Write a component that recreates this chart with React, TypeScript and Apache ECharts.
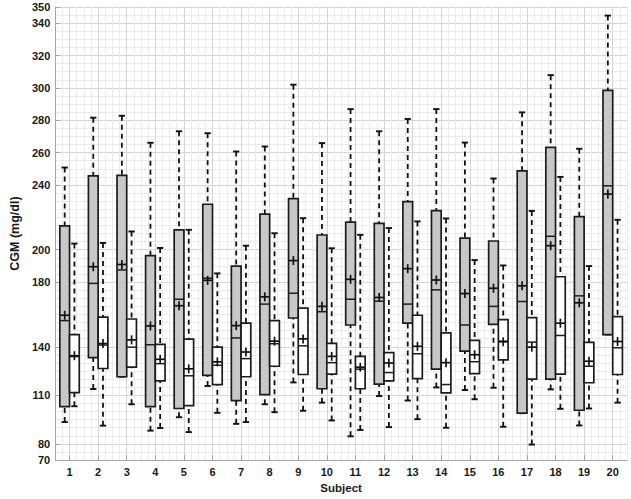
import React, { useEffect, useRef } from "react";
import * as echarts from "echarts";

const subjects = [1, 2, 3, 4, 5, 6, 7, 8, 9, 10, 11, 12, 13, 14, 15, 16, 17, 18, 19, 20];
const yTickValues = [70, 80, 110, 140, 180, 200, 240, 260, 280, 300, 320, 340, 350];

// gray boxes (left of each subject)
const grayLower = [93.5, 113.9, 121.5, 88.2, 96.5, 115.8, 92.4, 104.5, 118.0, 105.5, 84.7, 109.6, 106.8, 114.9, 113.3, 114.7, 99.0, 113.7, 91.4, 147.6];
const grayQ1 = [103.1, 133.3, 121.5, 103.1, 101.9, 122.3, 106.8, 110.4, 157.8, 114.1, 153.5, 117.0, 154.6, 126.2, 137.4, 153.9, 99.0, 120.1, 100.8, 147.6];
const grayMedian = [156.2, 179.2, 187.5, 141.3, 169.4, 182.4, 145.5, 166.4, 173.1, 161.7, 169.4, 168.2, 166.4, 175.2, 153.5, 165.0, 168.0, 208.3, 171.5, 239.5];
const grayQ3 = [214.8, 245.7, 246.0, 196.4, 212.3, 228.1, 189.9, 222.0, 231.6, 209.1, 217.0, 216.3, 229.7, 224.2, 207.2, 205.4, 248.7, 263.2, 220.4, 298.5];
const grayUpper = [250.8, 281.6, 282.8, 266.1, 273.2, 272.0, 260.7, 263.8, 302.0, 265.9, 286.9, 273.2, 280.8, 286.9, 266.2, 244.0, 284.9, 307.9, 262.4, 344.7];
const grayMean = [159.5, 189.5, 190.9, 152.9, 165.4, 181.1, 153.1, 170.9, 193.3, 165.0, 181.7, 170.5, 188.3, 181.3, 172.9, 176.2, 177.7, 202.5, 167.2, 234.4];

// white boxes (right of each subject)
const whiteLower = [103.3, 91.3, 104.5, 89.8, 87.3, 99.2, 93.5, 99.6, 100.5, 94.5, 88.6, 90.4, 95.3, 90.0, 107.6, 90.6, 79.6, 101.7, 101.9, 105.5];
const whiteQ1 = [111.7, 126.6, 127.4, 119.0, 103.7, 116.7, 121.5, 128.0, 122.9, 123.1, 114.1, 119.0, 120.4, 111.5, 123.5, 131.9, 120.1, 123.1, 117.8, 122.9];
const whiteMedian = [134.0, 141.1, 139.8, 129.6, 122.1, 128.6, 132.7, 141.9, 140.6, 130.2, 126.2, 124.1, 135.7, 116.7, 130.8, 143.5, 142.9, 147.0, 128.0, 139.4];
const whiteQ3 = [147.6, 158.4, 157.2, 141.5, 144.7, 139.8, 154.7, 156.2, 163.9, 142.1, 134.1, 136.4, 159.5, 148.6, 144.0, 156.8, 158.0, 183.3, 142.7, 158.7];
const whiteUpper = [203.8, 204.2, 211.3, 201.1, 212.3, 185.4, 202.5, 210.2, 219.5, 200.9, 209.2, 213.4, 217.5, 219.3, 193.6, 190.3, 224.0, 245.0, 189.9, 218.5];
const whiteMean = [134.5, 142.0, 144.3, 132.3, 126.4, 130.7, 136.8, 143.5, 144.9, 134.1, 127.4, 130.0, 140.3, 130.2, 135.1, 143.1, 139.8, 154.6, 131.1, 143.3];

const BOX_W = 0.34;
const OFFSET = 0.17;
const CAP_W = 0.22;
const FONT = "'Liberation Sans', Arial, Helvetica, sans-serif";
const AXIS_COLOR = "#a6a6a6";
const MINOR_GRID = "#ebebeb";
const MAJOR_GRID = "#d5d5d5";
const TEXT_COLOR = "#1a1a1a";

function makeSeries(
  name: string,
  offset: number,
  fill: string,
  lower: number[],
  q1: number[],
  med: number[],
  q3: number[],
  upper: number[],
  mean: number[]
) {
  const data = subjects.map((s, i) => [s + offset, lower[i], q1[i], med[i], q3[i], upper[i], mean[i]]);
  return {
    type: "custom",
    name,
    xAxisIndex: 0,
    yAxisIndex: 0,
    data,
    encode: { x: 0, y: [1, 2, 3, 4, 5, 6] },
    renderItem: (params: any, api: any) => {
      const xv = api.value(0);
      const vLw = api.value(1);
      const vQ1 = api.value(2);
      const vMed = api.value(3);
      const vQ3 = api.value(4);
      const vUw = api.value(5);
      const vMean = api.value(6);
      const pLw = api.coord([xv, vLw]);
      const cx = pLw[0];
      const yLw = pLw[1];
      const yQ1 = api.coord([xv, vQ1])[1];
      const yMed = api.coord([xv, vMed])[1];
      const yQ3 = api.coord([xv, vQ3])[1];
      const yUw = api.coord([xv, vUw])[1];
      const yMean = api.coord([xv, vMean])[1];
      const hw = api.size([BOX_W, 0])[0] / 2;
      const cw = api.size([CAP_W, 0])[0] / 2;
      const dash = { stroke: "#111", lineWidth: 1.8, lineDash: [5, 4], fill: null };
      const solid = { stroke: "#111", lineWidth: 1.9, fill: null };
      const children: any[] = [];
      if (vUw > vQ3) {
        children.push({ type: "line", shape: { x1: cx, y1: yUw, x2: cx, y2: yQ3 }, style: dash });
      }
      if (vLw < vQ1) {
        children.push({ type: "line", shape: { x1: cx, y1: yLw, x2: cx, y2: yQ1 }, style: dash });
      }
      children.push({ type: "line", shape: { x1: cx - cw, y1: yUw, x2: cx + cw, y2: yUw }, style: solid });
      children.push({ type: "line", shape: { x1: cx - cw, y1: yLw, x2: cx + cw, y2: yLw }, style: solid });
      children.push({
        type: "rect",
        shape: { x: cx - hw, y: yQ3, width: hw * 2, height: yQ1 - yQ3 },
        style: { fill, stroke: "#1c1c1c", lineWidth: 1.7 },
      });
      children.push({
        type: "line",
        shape: { x1: cx - hw, y1: yMed, x2: cx + hw, y2: yMed },
        style: { stroke: "#1c1c1c", lineWidth: 1.5 },
      });
      children.push({
        type: "line",
        shape: { x1: cx - 4.5, y1: yMean, x2: cx + 4.5, y2: yMean },
        style: { stroke: "#111", lineWidth: 1.7 },
      });
      children.push({
        type: "line",
        shape: { x1: cx, y1: yMean - 4.5, x2: cx, y2: yMean + 4.5 },
        style: { stroke: "#111", lineWidth: 1.7 },
      });
      return { type: "group", children };
    },
  };
}

export default function App() {
  const ref = useRef<HTMLDivElement>(null);

  useEffect(() => {
    if (!ref.current) return;
    const chart = echarts.init(ref.current, undefined, { renderer: "svg" });
    const labelStyle = {
      fontFamily: FONT,
      fontWeight: "bold",
      fontSize: 11,
      color: TEXT_COLOR,
    };
    chart.setOption({
      animation: false,
      backgroundColor: "#ffffff",
      grid: { left: 39, right: 4, top: 7, bottom: 35, containLabel: false },
      xAxis: [
        {
          type: "value",
          min: 0.5,
          max: 20.5,
          interval: 0.25,
          axisLine: { show: true, onZero: false, lineStyle: { color: AXIS_COLOR, width: 1 } },
          axisTick: { show: false },
          axisLabel: { show: false },
          splitLine: { show: true, lineStyle: { color: MINOR_GRID, width: 1 } },
        },
        {
          type: "value",
          min: 0.5,
          max: 20.5,
          position: "bottom",
          axisLine: { show: false, onZero: false },
          axisTick: {
            show: true,
            inside: true,
            length: 5,
            customValues: subjects,
            lineStyle: { color: AXIS_COLOR },
          },
          axisLabel: { ...labelStyle, margin: 6, customValues: subjects },
          splitLine: { show: true, lineStyle: { color: MAJOR_GRID, width: 1 } },
          name: "Subject",
          nameLocation: "middle",
          nameGap: 17,
          nameTextStyle: { ...labelStyle, fontSize: 11.5 },
        },
      ],
      yAxis: [
        {
          type: "value",
          min: 70,
          max: 350,
          interval: 5,
          axisLine: { show: true, onZero: false, lineStyle: { color: AXIS_COLOR, width: 1 } },
          axisTick: { show: false },
          axisLabel: { show: false },
          splitLine: { show: true, lineStyle: { color: MINOR_GRID, width: 1 } },
        },
        {
          type: "value",
          min: 70,
          max: 350,
          position: "left",
          axisLine: { show: false, onZero: false },
          axisTick: {
            show: true,
            inside: true,
            length: 5,
            customValues: yTickValues,
            lineStyle: { color: AXIS_COLOR },
          },
          axisLabel: { ...labelStyle, margin: 5, customValues: yTickValues },
          splitLine: { show: true, lineStyle: { color: MAJOR_GRID, width: 1 } },
          name: "CGM (mg/dl)",
          nameLocation: "middle",
          nameGap: 28,
          nameTextStyle: { ...labelStyle, fontSize: 12.5 },
        },
      ],
      series: [
        makeSeries("gray", -OFFSET, "#c8c8c8", grayLower, grayQ1, grayMedian, grayQ3, grayUpper, grayMean),
        makeSeries("white", OFFSET, "#ffffff", whiteLower, whiteQ1, whiteMedian, whiteQ3, whiteUpper, whiteMean),
      ],
    });
    return () => chart.dispose();
  }, []);

  return (
    <div
      ref={ref}
      style={{ position: "fixed", left: 0, top: 0, width: 631, height: 499, background: "#fff" }}
    />
  );
}
